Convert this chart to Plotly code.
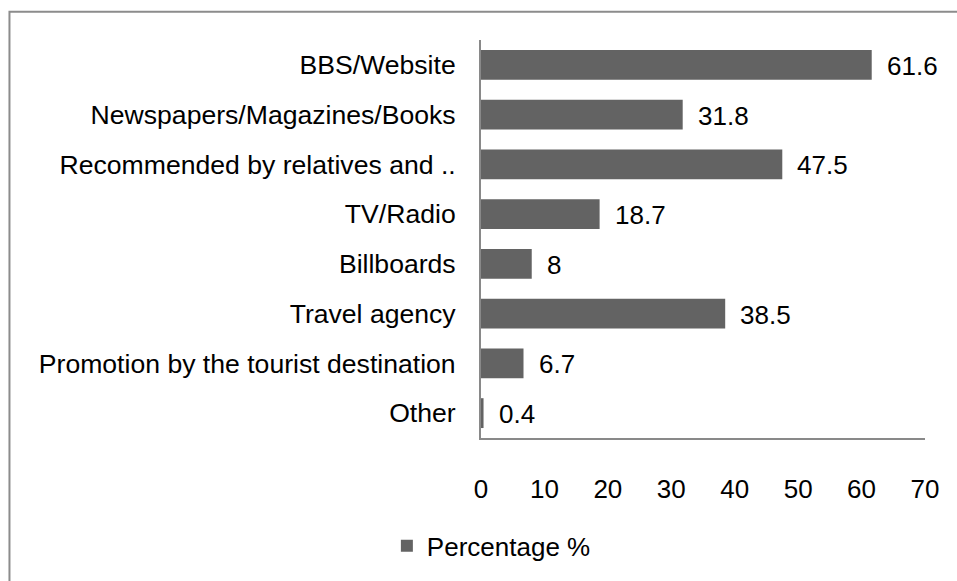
import plotly.graph_objects as go

# Information sources used by tourists (share of respondents, %)
categories = [
    "BBS/Website",
    "Newspapers/Magazines/Books",
    "Recommended by relatives and ..",
    "TV/Radio",
    "Billboards",
    "Travel agency",
    "Promotion by the tourist destination",
    "Other",
]
percentages = [61.6, 31.8, 47.5, 18.7, 8, 38.5, 6.7, 0.4]
series_name = "Percentage %"
x_ticks = [0, 10, 20, 30, 40, 50, 60, 70]

FONT = "Liberation Sans, Arial, sans-serif"
BAR_COLOR = "#636363"
AXIS_COLOR = "#898989"

fig = go.Figure()
fig.add_trace(
    go.Bar(
        x=percentages,
        y=categories,
        orientation="h",
        name=series_name,
        marker=dict(color=BAR_COLOR, line=dict(width=0)),
        showlegend=True,
    )
)

# Value labels just to the right of each bar end
for cat, val in zip(categories, percentages):
    fig.add_annotation(
        x=val,
        y=cat,
        text=f"{val:g}",
        xanchor="left",
        yanchor="middle",
        xshift=13,
        yshift=-1,
        showarrow=False,
        font=dict(family=FONT, size=26, color="#000000"),
    )

# Outer chart frame
fig.add_shape(
    type="rect",
    xref="paper",
    yref="paper",
    x0=-1.062,
    x1=1.15,
    y0=-0.45,
    y1=1.071,
    line=dict(color="#8c8c8c", width=2),
    fillcolor="rgba(0,0,0,0)",
    layer="below",
)

fig.update_layout(
    width=957,
    height=581,
    margin=dict(l=481, r=32, t=40, b=140, pad=0),
    paper_bgcolor="white",
    plot_bgcolor="white",
    font=dict(family=FONT, size=26, color="#000000"),
    bargap=0.4,
    showlegend=True,
    legend=dict(
        orientation="h",
        x=-0.212,
        xanchor="left",
        y=-0.271,
        yanchor="middle",
        font=dict(family=FONT, size=26, color="#000000"),
        bgcolor="rgba(0,0,0,0)",
        itemwidth=30,
    ),
    xaxis=dict(
        range=[0, 70],
        tickvals=x_ticks,
        ticktext=[str(t) for t in x_ticks],
        showgrid=False,
        zeroline=False,
        showline=True,
        linecolor=AXIS_COLOR,
        linewidth=2,
        ticks="",
        ticklabelstandoff=27,
        tickfont=dict(family=FONT, size=26, color="#000000"),
        fixedrange=True,
    ),
    yaxis=dict(
        autorange="reversed",
        showgrid=False,
        zeroline=False,
        showline=True,
        linecolor=AXIS_COLOR,
        linewidth=2,
        ticks="",
        ticklabelstandoff=18,
        tickfont=dict(family=FONT, size=26.6, color="#000000"),
        fixedrange=True,
    ),
)

fig.write_html("out.html")
